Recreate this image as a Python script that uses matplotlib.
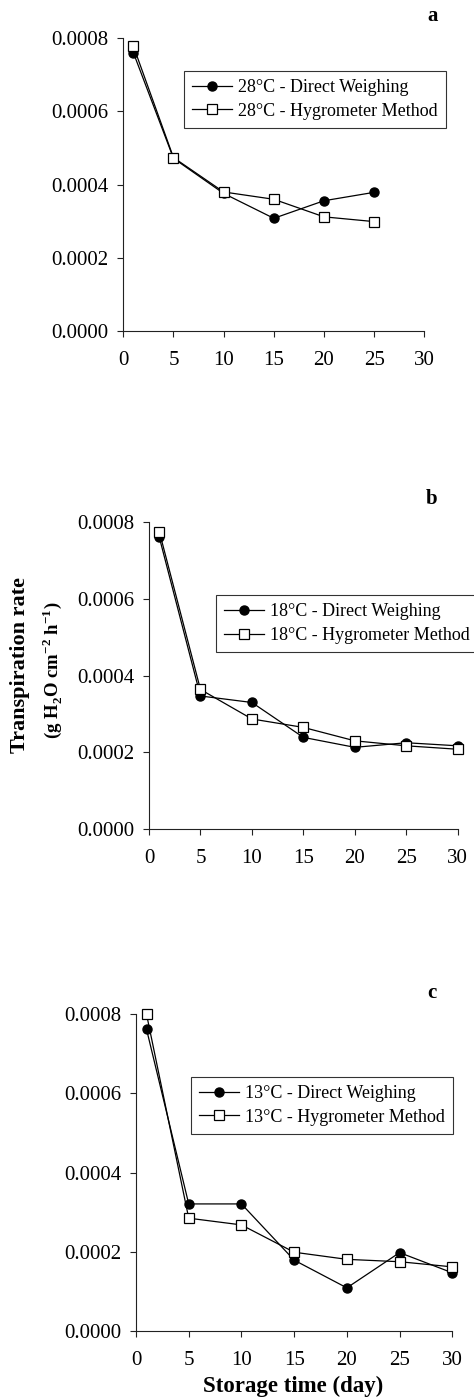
import matplotlib
matplotlib.use("Agg")
import matplotlib.pyplot as plt

plt.rcParams["font.family"] = ["Liberation Serif", "DejaVu Serif"]
plt.rcParams["mathtext.fontset"] = "custom"
plt.rcParams["mathtext.rm"] = "Liberation Serif"
plt.rcParams["mathtext.bf"] = "Liberation Serif:bold"

# storage days
days_a = [1, 5, 10, 15, 20, 25]
days_bc = [1, 5, 10, 15, 20, 25, 30]

# 28 C
direct_28 = [0.000761, 0.000472, 0.000376, 0.000308, 0.000356, 0.000379]
hygro_28 = [0.000779, 0.000474, 0.000380, 0.000360, 0.000312, 0.000299]

# 18 C
direct_18 = [0.000761, 0.000347, 0.000330, 0.000239, 0.000213, 0.000225, 0.000217]
hygro_18 = [0.000776, 0.000364, 0.000287, 0.000265, 0.000230, 0.000217, 0.000208]

# 13 C
direct_13 = [0.000762, 0.000321, 0.000321, 0.000179, 0.000109, 0.000198, 0.000147]
hygro_13 = [0.000800, 0.000285, 0.000268, 0.000199, 0.000181, 0.000175, 0.000162]

x_ticks = [0, 5, 10, 15, 20, 25, 30]
y_ticks = [0.0, 0.0002, 0.0004, 0.0006, 0.0008]

W, H = 474, 1399
fig = plt.figure(figsize=(W / 100, H / 100), dpi=100)


def px_axes(left, right, top, bottom):
    return fig.add_axes([left / W, 1 - bottom / H, (right - left) / W, (bottom - top) / H])


panels = [
    # axes box (px), legend anchor (px), label pos (px), data
    ((123.3, 424.3, 38.3, 331), (184, 70.7), (433, 16), "a", "28°C", days_a, direct_28, hygro_28),
    ((149, 457.7, 522.3, 829), (215.7, 595), (432, 499), "b", "18°C", days_bc, direct_18, hygro_18),
    ((136, 452.3, 1014.3, 1331), (191.3, 1076.7), (432, 993), "c", "13°C", days_bc, direct_13, hygro_13),
]

for box, leg_xy, lab_xy, letter, temp, days, direct, hygro in panels:
    ax = px_axes(*box)
    ax.plot(days, direct, color="black", lw=0.9, marker="o", ms=6.5,
            mfc="black", mec="black", label=f"{temp} - Direct Weighing", clip_on=False)
    ax.plot(days, hygro, color="black", lw=0.9, marker="s", ms=6.5,
            mfc="white", mec="black", mew=0.9, label=f"{temp} - Hygrometer Method", clip_on=False)
    ax.set_xlim(0, 30)
    ax.set_ylim(0, 0.0008)
    ax.set_xticks(x_ticks)
    ax.set_yticks(y_ticks)
    ax.set_yticklabels([f"{v:.4f}" for v in y_ticks])
    ax.spines["top"].set_visible(False)
    ax.spines["right"].set_visible(False)
    for s in ("left", "bottom"):
        ax.spines[s].set_linewidth(0.8)
        ax.spines[s].set_color("#222222")
    ax.tick_params(direction="out", length=4.5, width=0.8, color="#222222", labelsize=15)
    ax.tick_params(axis="x", pad=10)
    ax.tick_params(axis="y", pad=6)
    leg = ax.legend(loc="upper left", bbox_to_anchor=(leg_xy[0] / W, 1 - leg_xy[1] / H),
                    bbox_transform=fig.transFigure, borderaxespad=0, fontsize=13,
                    frameon=True, fancybox=False, edgecolor="black", handlelength=2.2,
                    handletextpad=0.35, labelspacing=0.38, borderpad=0.45)
    leg.get_frame().set_linewidth(0.8)
    fig.text(lab_xy[0] / W, 1 - lab_xy[1] / H, letter, fontsize=15, fontweight="bold",
             ha="center", va="center")

fig.text(20 / W, 1 - 665 / H, "Transpiration rate", rotation=90, fontsize=16,
         fontweight="bold", ha="center", va="center")
fig.text(52 / W, 1 - 670 / H,
         r"(g H$_\mathbf{2}$O cm$^\mathbf{-2}$ h$^\mathbf{-1}$)",
         rotation=90, fontsize=13.5, fontweight="bold", ha="center", va="center")
fig.text(292.7 / W, 1 - 1386.7 / H, "Storage time (day)", fontsize=16.5,
         fontweight="bold", ha="center", va="center")

fig.savefig("out.png", dpi=100)
